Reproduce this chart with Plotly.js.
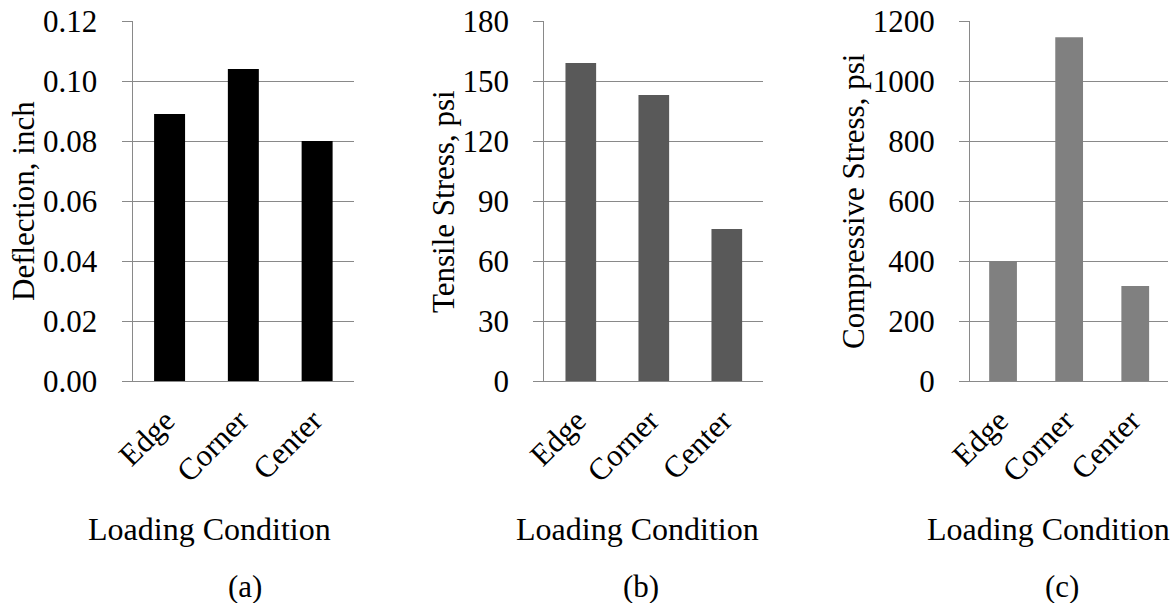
<!DOCTYPE html>
<html>
<head>
<meta charset="utf-8">
<script src="https://cdn.plot.ly/plotly-3.0.1.min.js"></script>
<style>body{margin:0;padding:0;background:#fff;}</style>
</head>
<body>
<div id="chart" style="width:1176px;height:603px"></div>
<script>
// ---- data ----
const categories = ['Edge', 'Corner', 'Center'];
const deflection = [0.089, 0.104, 0.080];
const tensileStress = [159, 143, 76];
const compressiveStress = [400, 1146, 317];
const yTitles = ['Deflection, inch', 'Tensile Stress, psi', 'Compressive Stress, psi'];
const xTitle = 'Loading Condition';
const panelLabels = ['(a)', '(b)', '(c)'];

// ---- layout constants (pixels) ----
const W = 1176, H = 603;
const FONT = 'Liberation Serif';
const FS = 31;
const FS_XTITLE = 32;
const GRID = '#898989';
const plotLeft = [132.7, 544.3, 970];
const plotRight = [354, 763.3, 1168.3];
const plotTop = 21, plotBottom = 381;
const yTitleX = [24, 444, 854];
const xTitleX = [209, 637, 1048.5];
const panelX = [245, 640.5, 1061.5];
const barColors = ['#000000', '#595959', '#808080'];
const ranges = [[0, 0.12], [0, 180], [0, 1200]];
const dticks = [0.02, 30, 200];
const tickFormats = ['.2f', 'd', 'd'];
const series = [deflection, tensileStress, compressiveStress];

const px2x = p => p / W;
const px2y = p => 1 - p / H;

const data = series.map((vals, i) => ({
  type: 'bar',
  x: categories,
  y: vals,
  xaxis: i === 0 ? 'x' : 'x' + (i + 1),
  yaxis: i === 0 ? 'y' : 'y' + (i + 1),
  marker: {color: barColors[i], line: {width: 0}}
}));

const layout = {
  width: W, height: H,
  margin: {l: 0, r: 0, t: 0, b: 0, pad: 0},
  paper_bgcolor: '#ffffff',
  plot_bgcolor: '#ffffff',
  showlegend: false,
  bargap: 0.58,
  annotations: []
};

for (let i = 0; i < 3; i++) {
  const sx = i === 0 ? '' : String(i + 1);
  layout['xaxis' + sx] = {
    domain: [px2x(plotLeft[i]), px2x(plotRight[i])],
    anchor: 'y' + sx,
    type: 'category',
    showgrid: false,
    showline: true, linecolor: GRID, linewidth: 1.3,
    ticks: '',
    tickangle: -45,
    ticklabelstandoff: 8,
    ticklabelshift: -4,
    tickfont: {family: FONT, size: FS, color: '#000000'}
  };
  layout['yaxis' + sx] = {
    domain: [px2y(plotBottom), px2y(plotTop)],
    anchor: 'x' + sx,
    range: ranges[i],
    dtick: dticks[i],
    tick0: 0,
    tickformat: tickFormats[i],
    showgrid: true, gridcolor: GRID, gridwidth: 1.3,
    zeroline: false,
    showline: true, linecolor: GRID, linewidth: 1.3,
    ticks: 'outside', ticklen: 10, tickcolor: GRID, tickwidth: 1.3,
    ticklabelstandoff: 18,
    tickfont: {family: FONT, size: FS, color: '#000000'}
  };
  layout.annotations.push({
    text: yTitles[i], textangle: -90,
    xref: 'paper', yref: 'paper',
    x: px2x(yTitleX[i]), y: px2y((plotTop + plotBottom) / 2),
    xanchor: 'center', yanchor: 'middle', showarrow: false,
    font: {family: FONT, size: FS, color: '#000000'}
  });
  layout.annotations.push({
    text: xTitle,
    xref: 'paper', yref: 'paper',
    x: px2x(xTitleX[i]), y: px2y(529),
    xanchor: 'center', yanchor: 'middle', showarrow: false,
    font: {family: FONT, size: FS_XTITLE, color: '#000000'}
  });
  layout.annotations.push({
    text: panelLabels[i],
    xref: 'paper', yref: 'paper',
    x: px2x(panelX[i]), y: px2y(586),
    xanchor: 'center', yanchor: 'middle', showarrow: false,
    font: {family: FONT, size: FS, color: '#000000'}
  });
}

Plotly.newPlot('chart', data, layout, {displayModeBar: false});
</script>
</body>
</html>
